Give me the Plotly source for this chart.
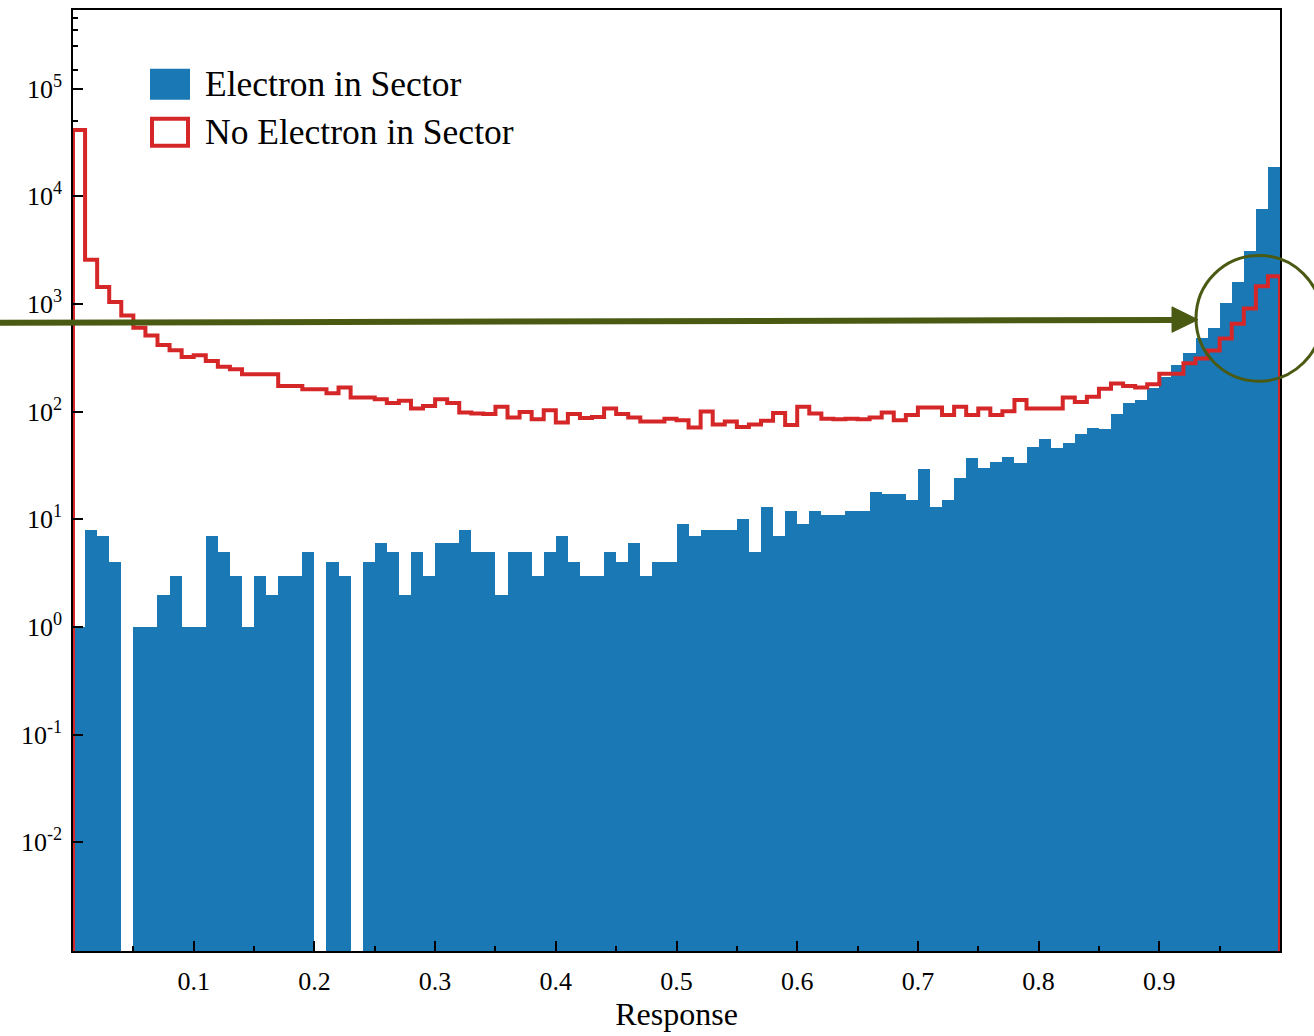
import plotly.graph_objects as go

# ---------------- data ----------------
bin_edges_lo = 0.0
bin_edges_hi = 1.0
n_bins = 100

electron_counts = [
    1, 8, 7, 4, 0, 1, 1, 2, 3, 1,
    1, 7, 5, 3, 1, 3, 2, 3, 3, 5,
    0, 4, 3, 0, 4, 6, 5, 2, 5, 3,
    6, 6, 8, 5, 5, 2, 5, 5, 3, 5,
    7, 4, 3, 3, 5, 4, 6, 3, 4, 4,
    9, 7, 8, 8, 8, 10, 5, 13, 7, 12,
    9, 12, 11, 11, 12, 12, 18, 17, 17, 15,
    29, 13, 15, 24, 37, 30, 34, 38, 33, 47,
    56, 46, 51, 62, 71, 69, 96, 120, 128, 165,
    210, 269, 352, 484, 600, 1021, 1600, 3120, 7640, 18840,
]

no_electron_counts = [
    41200, 2576, 1436, 1044, 780, 600, 510, 415, 372, 321,
    333, 295, 261, 247, 222, 222, 222, 173, 173, 161,
    161, 148, 167, 135, 135, 130, 120, 126, 107, 113,
    130, 120, 98, 96, 95, 111, 88, 99, 85, 103,
    79, 95, 87, 89, 107, 95, 88, 81, 81, 86,
    83, 71, 100, 76, 81, 72, 76, 82, 97, 75,
    111, 96, 86, 85, 86, 85, 88, 98, 83, 93,
    109, 109, 93, 111, 93, 107, 93, 101, 128, 107,
    107, 107, 135, 123, 137, 163, 182, 173, 167, 179,
    225, 225, 281, 312, 370, 478, 653, 906, 1458, 1804,
]

x_tick_vals = [0.1, 0.2, 0.3, 0.4, 0.5, 0.6, 0.7, 0.8, 0.9]
x_minor_vals = [0.05, 0.15, 0.25, 0.35, 0.45, 0.55, 0.65, 0.75, 0.85, 0.95]
y_exponents = [-2, -1, 0, 1, 2, 3, 4, 5]
y_minor_vals = [5e4, 1.5e5, 2.5e5, 3.5e5, 4.5e5]

series_names = ["Electron in Sector", "No Electron in Sector"]
axis_title = "Response"

# ---------------- derived ----------------
width_bin = (bin_edges_hi - bin_edges_lo) / n_bins
edges = [bin_edges_lo + i * width_bin for i in range(n_bins + 1)]
centers = [(edges[i] + edges[i + 1]) / 2 for i in range(n_bins)]

BLUE = "#1a78b4"
RED = "#d62728"
OLIVE = "#4a5a13"
FONT = "Liberation Serif"

fig = go.Figure()

fig.add_trace(go.Bar(
    x=centers,
    y=[v if v > 0 else None for v in electron_counts],
    width=width_bin,
    marker=dict(color=BLUE, line=dict(width=0)),
    name=series_names[0],
    showlegend=False,
))

# step outline for the second histogram
floor_val = 1e-6
step_x = [edges[0]] + edges[:-1] + [edges[-1], edges[-1]]
step_y = [floor_val] + no_electron_counts + [no_electron_counts[-1], floor_val]
fig.add_trace(go.Scatter(
    x=step_x, y=step_y,
    mode="lines",
    line=dict(color=RED, width=4, shape="hv"),
    name=series_names[1],
    showlegend=False,
))

# ---------------- layout helpers (pixel -> paper) ----------------
W, H = 1314, 1036
ML, MR, MT, MB = 73, 34, 8, 85
PL, PR, PT, PB = ML, W - MR, MT, H - MB


def px(x):
    return (x - PL) / (PR - PL)


def py(y):
    return (PB - y) / (PB - PT)


shapes = []
# manual legend patches
shapes.append(dict(type="rect", xref="paper", yref="paper",
                   x0=px(150), x1=px(190), y0=py(98), y1=py(67),
                   fillcolor=BLUE, line=dict(width=0), layer="above"))
shapes.append(dict(type="rect", xref="paper", yref="paper",
                   x0=px(152), x1=px(188), y0=py(144), y1=py(117),
                   fillcolor="rgba(0,0,0,0)", line=dict(color=RED, width=4), layer="above"))
# annotation arrow + circle
shapes.append(dict(type="line", xref="paper", yref="paper",
                   x0=px(0), y0=py(321.5), x1=px(1176), y1=py(318.6),
                   line=dict(color=OLIVE, width=6), layer="above"))
shapes.append(dict(type="path", xref="paper", yref="paper",
                   path=f"M {px(1172)},{py(305.5)} L {px(1198)},{py(318.3)} L {px(1172)},{py(331)} Z",
                   fillcolor=OLIVE, line=dict(color=OLIVE, width=1), layer="above"))
shapes.append(dict(type="circle", xref="paper", yref="paper",
                   x0=px(1196), x1=px(1322), y0=py(380), y1=py(254),
                   line=dict(color=OLIVE, width=3), fillcolor="rgba(0,0,0,0)", layer="above"))

annotations = [
    dict(xref="paper", yref="paper", x=px(203), y=py(82), text=series_names[0],
         showarrow=False, xanchor="left", yanchor="middle",
         font=dict(family=FONT, size=35.5, color="black")),
    dict(xref="paper", yref="paper", x=px(203), y=py(130), text=series_names[1],
         showarrow=False, xanchor="left", yanchor="middle",
         font=dict(family=FONT, size=35.5, color="black")),
]

fig.update_layout(
    width=W, height=H,
    margin=dict(l=ML, r=MR, t=MT, b=MB, pad=0),
    paper_bgcolor="white", plot_bgcolor="white",
    bargap=0, barmode="overlay",
    font=dict(family=FONT, size=26, color="black"),
    shapes=shapes,
    annotations=annotations,
    showlegend=False,
)

fig.update_xaxes(
    range=[bin_edges_lo, bin_edges_hi],
    showgrid=False, zeroline=False,
    showline=True, linecolor="black", linewidth=1.5, mirror=True,
    ticks="inside", ticklen=10, tickwidth=1.5, tickcolor="black",
    tickvals=x_tick_vals, ticktext=[f"{v:.1f}" for v in x_tick_vals],
    minor=dict(tickvals=x_minor_vals, ticks="inside", ticklen=5, tickwidth=1.5, tickcolor="black", showgrid=False),
    tickfont=dict(family=FONT, size=26),
    ticklabelstandoff=6,
    title=dict(text=axis_title, font=dict(family=FONT, size=32), standoff=6),
)

fig.update_yaxes(
    type="log",
    range=[-3.01, 5.73],
    showgrid=False, zeroline=False,
    showline=True, linecolor="black", linewidth=1.5, mirror=True,
    ticks="inside", ticklen=10, tickwidth=1.5, tickcolor="black",
    tickvals=[10.0 ** e for e in y_exponents],
    ticktext=[f"10<sup>{e}</sup>" for e in y_exponents],
    minor=dict(tickvals=y_minor_vals, ticks="inside", ticklen=5, tickwidth=1.5, tickcolor="black", showgrid=False),
    tickfont=dict(family=FONT, size=26),
    ticklabelstandoff=4,
)

fig.write_html("out.html")
